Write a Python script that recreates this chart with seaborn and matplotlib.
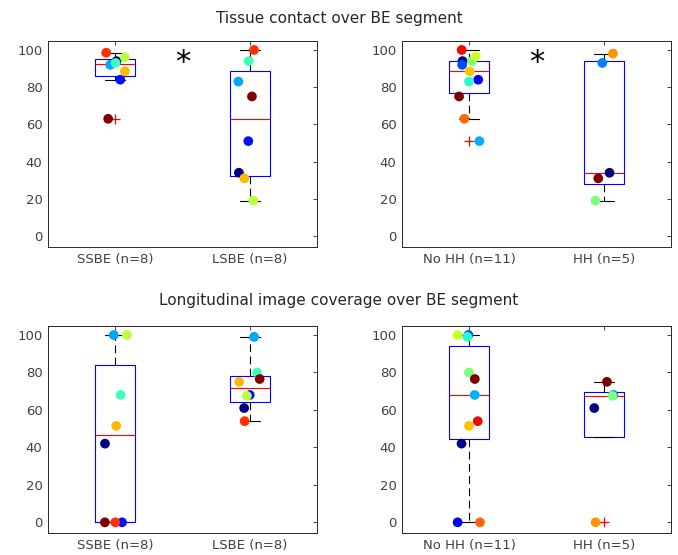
import numpy as np
import matplotlib
matplotlib.use("Agg")
import matplotlib.pyplot as plt
import seaborn as sns
import pandas as pd

# ---- data (values per patient, in jet colour order within each group) ----
tc_groups = ["SSBE (n=8)", "LSBE (n=8)"]
tc_ssbe = [94, 84, 92, 93, 96, 88.5, 98.5, 63]
tc_lsbe = [34, 51, 83, 94, 19, 31, 100, 75]
hh_groups = ["No HH (n=11)", "HH (n=5)"]
tc_nohh = [94, 84, 92, 51, 83, 94, 96.5, 88.5, 63, 100, 75]
tc_hh = [34, 93, 19, 98, 31]
lc_ssbe = [42, 0, 100, 68, 100, 51.5, 0, 0]
lc_lsbe = [61, 68, 99, 80, 67.5, 75, 54, 76.5]
lc_nohh = [42, 0, 100, 68, 99, 80, 100, 51.5, 0, 54, 76.5]
lc_hh = [61, 68, 67.5, 0, 75]
yticks = [0, 20, 40, 60, 80, 100]
titles = ["Tissue contact over BE segment",
          "Longitudinal image coverage over BE segment"]
signif_tc = [True, True]

sns.set_style("white")
plt.rcParams['font.family'] = ['DejaVu Sans']

TXT = '#262626'
TICK = '#404040'


def mstats(vals):
    v = np.sort(np.asarray(vals, float))
    q1, med, q3 = np.percentile(v, [25, 50, 75], method='hazen')
    iqr = q3 - q1
    lo, hi = q1 - 1.5 * iqr, q3 + 1.5 * iqr
    inl = v[(v >= lo) & (v <= hi)]
    return dict(med=med, q1=q1, q3=q3,
                whislo=min(inl.min(), q1), whishi=max(inl.max(), q3),
                fliers=v[(v < lo) | (v > hi)])


def panel(ax, groups, series, star, seed):
    stats = [mstats(s) for s in series]
    ax.bxp(stats, positions=[0, 1], widths=0.3, capwidths=0.15,
           manage_ticks=False, showfliers=True,
           boxprops=dict(color='#0000ff', lw=0.8),
           whiskerprops=dict(color='black', lw=0.8, ls=(0, (7, 4))),
           capprops=dict(color='black', lw=0.8),
           medianprops=dict(color='#ff0000', lw=0.8),
           flierprops=dict(marker='+', markeredgecolor='#ff0000',
                           markersize=7, markeredgewidth=0.9, linestyle='none'))
    rows = []
    pal = {}
    for g, s in zip(groups, series):
        cols = plt.cm.jet(np.linspace(0, 1, len(s)))
        for i, val in enumerate(s):
            k = f"{g}-{i}"
            rows.append(dict(group=g, value=val, key=k))
            pal[k] = cols[i]
    df = pd.DataFrame(rows)
    np.random.seed(seed)
    sns.stripplot(data=df, x='group', y='value', hue='key', order=groups,
                  hue_order=list(pal.keys()), palette=pal, jitter=0.09,
                  size=7, linewidth=0, legend=False, ax=ax, zorder=5)
    ax.set_xlim(-0.5, 1.5)
    ax.set_yticks(yticks)
    ax.set_xticks([0, 1])
    ax.set_xticklabels(groups)
    ax.set_xlabel('')
    ax.set_ylabel('')
    for sp in ax.spines.values():
        sp.set_color(TXT)
        sp.set_linewidth(0.7)
    ax.tick_params(direction='in', length=3, width=0.6, top=True, right=True,
                   color=TXT, labelcolor=TICK, labelsize=9.5, pad=4)
    if star:
        ax.text(0.5, 93, '*', ha='center', va='center', fontsize=22, color='black')


fig = plt.figure(figsize=(6.78, 5.55), dpi=100)
W = 269 / 678
ax1 = fig.add_axes([48 / 678, 1 - 247 / 555, W, 206 / 555])
ax2 = fig.add_axes([402 / 678, 1 - 247 / 555, W, 206 / 555])
ax3 = fig.add_axes([48 / 678, 1 - 533 / 555, W, 207 / 555])
ax4 = fig.add_axes([402 / 678, 1 - 533 / 555, W, 207 / 555])

panel(ax1, tc_groups, [tc_ssbe, tc_lsbe], signif_tc[0], 3)
panel(ax2, hh_groups, [tc_nohh, tc_hh], signif_tc[1], 5)
panel(ax3, tc_groups, [lc_ssbe, lc_lsbe], False, 7)
panel(ax4, hh_groups, [lc_nohh, lc_hh], False, 11)
for ax in (ax1, ax2):
    ax.set_ylim(-5.9, 104.8)
for ax in (ax3, ax4):
    ax.set_ylim(-5.7, 104.8)

fig.text(0.5, 1 - 23 / 555, titles[0], ha='center', va='baseline',
         fontsize=11, color=TXT)
fig.text(0.5, 1 - 305 / 555, titles[1], ha='center', va='baseline',
         fontsize=11, color=TXT)

fig.savefig('out.png', dpi=100, facecolor='white')
